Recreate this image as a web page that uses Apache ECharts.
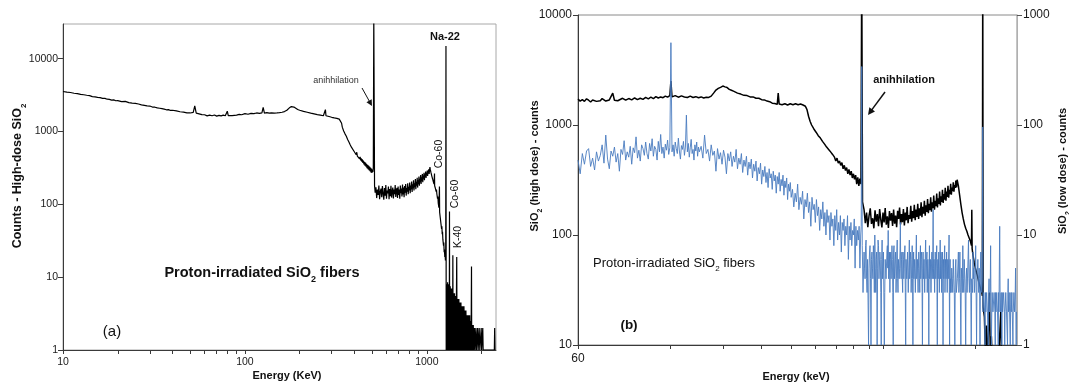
<!DOCTYPE html>
<html><head><meta charset="utf-8">
<script src="https://cdn.jsdelivr.net/npm/echarts@6/dist/echarts.min.js"></script>
<style>html,body{margin:0;padding:0;background:#fff}#c{width:1069px;height:386px}</style>
</head><body><div id="c"></div>
<script>
// ---------- Panel (a): high-dose spectrum, [energy keV, counts] ----------
const aSpectrum = [
[10,3550],[10.5,3470],[11,3440],[11.5,3360],[12,3320],[12.5,3240],[13,3200],[13.5,3150],[14,3110],[14.5,3020],
[15,2990],[15.5,2950],[16,2920],[16.5,2860],[17,2850],[17.5,2780],[18,2770],[18.5,2700],[19,2720],[19.5,2650],
[20,2660],[21,2580],[22,2600],[23,2500],[24,2460],[25,2440],[26,2390],[27,2330],[28,2290],[29,2250],[30,2240],
[31,2170],[32,2160],[33,2110],[34,2090],[35,2060],[36,2030],[37,1990],[38,2000],[39,1950],[40,1960],[41,1910],
[42,1920],[43,1880],[44,1870],[45,1830],[46,1850],[47,1800],[48,1810],[49,1770],[50,1800],[51,1760],[52,1830],
[53,2250],[54,1790],[55,1720],[56,1750],[57,1690],[58,1710],[59,1660],[60,1700],[62,1640],[64,1680],[66,1650],
[68,1690],[70,1630],[72,1670],[74,1640],[76,1680],[78,1650],[80,1900],[81,1660],[83,1700],[85,1650],[87,1690],
[90,1680],[93,1720],[96,1700],[100,1760],[104,1730],[108,1780],[112,1760],[116,1800],[120,1780],[124,1810],
[126,2150],[128,1790],[132,1820],[136,1790],[140,1810],[145,1790],[150,1800],[155,1820],[160,1840],[165,1880],
[170,1960],[175,2100],[180,2200],[183,2250],[186,2170],[190,2090],[195,2010],[200,1960],[205,1930],[210,1890],
[215,1870],[220,1840],[225,1820],[230,1790],[235,1780],[240,1750],[245,1740],[250,1710],[255,1700],[260,1680],
[265,1670],[270,1650],[275,1660],[277,2000],[279,1650],[285,1620],[290,1610],[295,1580],[300,1570],[305,1550],
[310,1540],[315,1530],[320,1520],[325,1500],[330,1480],[335,1400],[340,1300],[343,1150],[346,1180],[349,1020],
[352,1060],[355,930],[358,960],[361,860],[364,890],[367,780],[370,800],[373,720],[376,750],[379,660],[382,690],
[385,610],[388,640],[391,580],[394,600],[397,540],[400,570],[403,510],[406,540],[409,480],[412,520],[415,460],
[418,490],[421,440],[424,470],[427,420],[430,450],[433,400],[436,430],[439,385],[442,415],[445,370],[448,400],
[451,355],[454,385],[457,340],[460,375],[463,330],[466,360],[469,315],[472,350],[475,305],[478,340],[481,295],
[484,330],[487,285],[490,320],[493,275],[496,310],[499,270],[502,300],[505,280],[508,320],[511,40000],
[516,180],[520,145],[525,172],[530,122],[535,160],[540,135],[545,182],[550,118],[555,150],[560,165],[565,125],
[570,178],[575,140],[580,116],[585,168],[590,132],[595,185],[600,120],[605,155],[610,142],[615,176],[620,118],
[625,162],[630,130],[635,180],[640,124],[645,150],[650,170],[655,121],[660,160],[665,138],[670,184],[675,126],
[680,155],[685,168],[690,122],[695,176],[700,135],[705,160],[710,120],[715,182],[720,142],[725,165],[730,128],
[735,188],[740,137],[745,170],[750,125],[755,178],[760,145],[765,190],[770,132],[775,168],[780,150],[785,195],
[790,138],[795,175],[800,155],[805,200],[810,142],[815,182],[820,160],[825,206],[830,148],[835,188],[840,165],
[845,214],[850,155],[855,195],[860,172],[865,222],[870,162],[875,205],[880,180],[885,232],[890,170],[895,215],
[900,190],[905,242],[910,180],[915,225],[920,200],[925,252],[930,190],[935,236],[940,212],[945,262],[950,202],
[955,248],[960,225],[965,272],[970,215],[975,258],[980,238],[985,282],[990,230],[995,268],[1000,250],[1005,292],
[1010,245],[1015,280],[1020,265],[1025,302],[1030,262],[1035,295],
[1040,325],[1045,300],[1050,310],[1055,270],[1060,280],[1065,245],[1070,255],[1075,225],[1080,235],[1085,205],
[1090,215],[1095,190],[1100,200],[1102,265],[1104,180],[1110,185],[1115,165],[1120,172],[1125,150],[1130,160],
[1135,140],[1140,145],[1145,120],[1150,128],[1155,105],[1160,110],[1165,90],[1170,95],[1173,176],[1176,78],
[1180,80],[1185,66],[1190,70],[1195,55],[1200,58],[1205,46],[1210,50],[1215,39],[1220,42],[1225,33],[1230,35],
[1235,27],[1240,30],[1245,22],[1250,24],[1255,19],[1260,21],[1265,17],[1270,19],[1274,15000],[1278,1],
[1285,1],[1290,8],[1295,1],[1300,8.5],[1305,1],[1310,7.5],[1315,1],[1320,8],[1325,1],[1330,6],[1332,80],[1334,6],
[1340,1],[1345,7.5],[1350,1],[1355,7],[1360,1],[1370,7],[1375,1],[1380,6.5],[1385,1],[1390,20],[1395,1],[1400,6],
[1410,1],[1420,6],[1430,1],[1440,5.5],[1450,1],[1455,6],[1460,19],[1463,5],[1470,1],[1480,5],[1490,1],[1500,5],
[1510,1],[1520,4.5],[1530,1],[1540,4.5],[1550,1],[1560,4],[1570,1],[1580,4],[1590,1],[1600,4],[1610,1],[1620,3.5],
[1630,1],[1640,3.5],[1650,1],[1660,3],[1670,1],[1680,3],[1690,1],[1700,3],[1710,1],[1720,3],[1730,1],[1740,2.5],
[1750,1],[1760,14],[1765,1],[1775,2.2],[1785,1],[1800,2.2],[1810,1],[1825,2],[1840,1],[1860,2],[1875,1],[1900,2],
[1915,1],[1940,2],[1955,1],[1990,2],[2000,1],[2030,2],[2040,1],[2350,1],[2360,2],[2370,1]
];
const aXTicks = [10,20,30,40,50,60,70,80,90,100,200,300,400,500,600,700,800,900,1000,2000];
const aXLabels = [10,100,1000];
const aYLabels = [1,10,100,1000,10000];

// ---------- Panel (b): high dose (left axis) ----------
const bHighDose = [
[60,1720],[61,1650],[62,1700],[63,1640],[64,1730],[65,1680],[66,1620],[67,1690],[68,1710],[69,1640],[70,1700],
[71,1660],[72,1740],[73,1680],[74,1650],[75,1720],[76,1690],[77,1700],[78,1950],[79,1680],[80,1730],[81,1660],
[82,1700],[84,1750],[86,1680],[88,1740],[90,1690],[92,1760],[94,1700],[96,1750],[98,1710],[100,1780],[102,1730],
[104,1790],[106,1740],[108,1810],[110,1760],[112,1800],[114,1770],[116,1830],[118,1790],[120,1850],[121,2510],
[122,1800],[125,1850],[128,1790],[131,1840],[134,1800],[137,1780],[140,1830],[143,1780],[146,1810],[149,1770],
[152,1800],[155,1760],[158,1790],[161,1780],[164,1830],[167,1950],[170,2080],[173,2150],[176,2200],[179,2260],
[182,2220],[185,2190],[188,2110],[191,2070],[194,2030],[197,1990],[200,1950],[205,1910],[210,1860],[215,1850],
[220,1800],[225,1800],[230,1750],[235,1750],[240,1700],[245,1690],[250,1650],[255,1630],[260,1580],[265,1570],
[270,1540],[272,1950],[274,1550],[280,1530],[286,1560],[292,1520],[298,1560],[304,1530],[310,1560],[316,1530],
[322,1550],[328,1520],[334,1480],[338,1380],[342,1200],[346,1080],[350,1000],[356,920],[362,860],[368,800],
[374,760],[380,710],[386,670],[392,630],[398,600],[404,570],[410,540],[416,510],[420,470],[424,500],[428,450],
[432,470],[436,430],[440,455],[444,400],[448,430],[452,385],[456,410],[460,360],[464,395],[468,350],[472,380],
[476,330],[480,360],[484,320],[488,350],[492,290],[496,335],[500,280],[504,325],[508,290],[511,30000],[514,200],
[520,170],[525,128],[530,160],[535,118],[540,150],[545,175],[550,126],[555,142],[560,115],[565,168],[570,132],
[575,155],[580,120],[585,172],[590,138],[595,117],[600,160],[605,130],[610,176],[615,124],[620,148],[625,116],
[630,165],[635,135],[640,158],[645,121],[650,170],[655,127],[660,150],[665,118],[670,166],[675,140],[680,178],
[685,125],[690,155],[695,131],[700,172],[705,122],[710,160],[715,136],[720,180],[725,128],[730,152],[735,140],
[740,184],[745,132],[750,165],[755,142],[760,188],[765,136],[770,170],[775,146],[780,192],[785,140],[790,175],
[795,150],[800,198],[805,145],[810,180],[815,156],[820,205],[825,150],[830,186],[835,162],[840,212],[845,158],
[850,192],[855,168],[860,220],[865,163],[870,198],[875,175],[880,228],[885,170],[890,205],[895,183],[900,238],
[905,178],[910,215],[915,192],[920,248],[925,186],[930,225],[935,200],[940,258],[945,196],[950,236],[955,210],
[960,268],[965,205],[970,248],[975,222],[980,280],[985,218],[990,258],[995,235],[1000,292],[1005,232],[1010,270],
[1015,250],[1020,302],[1025,248],[1030,285],[1035,268],[1040,312],[1045,270],[1050,318],[1054,325],
[1060,280],[1070,230],[1080,190],[1090,160],[1100,140],[1110,125],[1120,115],[1130,108],[1140,100],[1150,94],
[1160,88],[1170,80],[1173,170],[1176,75],[1185,64],[1195,56],[1205,50],[1215,46],[1225,42],[1235,38],[1245,35],
[1255,32],[1265,30],[1270,28],[1274,30000],[1278,22],[1290,18],[1300,8],[1310,15],[1320,6],[1340,30],[1350,7],
[1360,12],[1375,5],[1390,9],[1400,4],[1430,6],[1460,20],[1470,4],[1500,5],[1540,3],[1600,4],[1650,3]
];
// ---------- Panel (b): low dose (right axis) ----------
const bLowDose = [
[60,48],[61,36],[62,55],[63,44],[64,58],[65,61],[66,42],[67,50],[68,39],[69,57],[70,47],[71,53],[72,66],[73,45],
[74,81],[75,49],[76,40],[77,58],[78,52],[79,63],[80,46],[81,55],[82,38],[83,60],[84,54],[85,72],[86,48],[87,57],
[88,51],[89,64],[90,44],[91,62],[92,56],[93,78],[94,50],[95,59],[96,47],[97,66],[98,61],[99,53],[100,70],[101,55],
[102,49],[103,68],[104,58],[105,75],[106,52],[107,64],[108,60],[109,48],[110,71],[111,57],[112,82],[113,55],
[114,63],[115,50],[116,67],[117,59],[118,73],[119,54],[120,62],[121,560],[122,57],[123,66],[124,52],[125,70],
[126,61],[127,55],[128,76],[129,58],[130,49],[131,65],[132,60],[133,71],[134,53],[135,63],[136,123],[137,57],
[138,68],[139,51],[140,62],[141,74],[142,55],[143,60],[144,48],[145,66],[146,58],[147,70],[148,52],[149,63],
[150,57],[152,64],[154,50],[156,81],[158,55],[160,60],[162,47],[164,66],[166,53],[168,58],[170,38],[172,61],
[174,49],[176,56],[178,44],[180,59],[182,51],[184,36],[186,55],[188,47],[190,57],[192,42],[194,52],[196,46],
[198,60],[200,40],[202,50],[204,44],[206,55],[208,37],[210,48],[212,42],[214,52],[216,35],[218,46],[220,40],
[222,49],[224,33],[226,44],[228,38],[230,47],[232,31],[234,41],[236,36],[238,45],[240,29],[242,39],[244,34],
[246,42],[248,30],[250,37],[252,27],[254,40],[256,33],[258,36],[260,26],[262,38],[264,31],[266,35],[268,24],
[270,34],[272,29],[274,37],[276,25],[278,32],[280,28],[282,35],[284,23],[286,31],[288,27],[290,33],[292,21],
[294,29],[296,25],[298,30],[300,22],[303,26],[306,18],[309,24],[312,20],[315,29],[318,17],[321,22],[324,19],
[327,25],[330,14],[333,21],[336,18],[339,24],[342,16],[345,20],[348,12],[351,22],[354,17],[357,19],[360,13],
[363,21],[366,15],[369,18],[372,11],[375,17],[378,14],[381,20],[384,12],[387,16],[390,10],[393,17],[396,13],
[399,15],[402,9],[405,16],[408,12],[411,14],[414,8],[417,15],[420,11],[423,17],[426,9],[429,13],[432,10],
[435,15],[438,7],[441,13],[444,11],[447,14],[450,8],[453,12],[456,10],[459,15],[462,6],[465,12],[468,9],
[471,13],[474,8],[477,11],[480,10],[483,14],[486,5],[489,12],[492,8],[495,11],[498,9],[501,12],[504,5],
[507,10],[509,12],[511,340],[513,8],[516,3],
[520,7],[522,5],[524,4],[526,8],[528,9],[530,4],[532,3],[534,6],[536,6],[538,1],[540,5],[542,7],[544,8],[546,4],
[548,1],[550,6],[552,7],[554,5],[556,4],[558,8],[560,6],[562,3],[564,10],[566,5],[568,3],[570,6],[572,7],[574,1],
[576,5],[578,9],[580,8],[582,4],[584,4],[586,7],[588,6],[590,3],[592,1],[594,6],[596,9],[598,4],[600,5],[602,7],
[604,7],[606,1],[608,3],[610,6],[612,6],[614,4],[616,4],[618,7],[620,8],[622,5],[624,11],[626,4],[628,5],[630,7],
[632,3],[634,6],[636,7],[638,4],[640,4],[642,8],[644,6],[646,3],[648,1],[650,7],[652,8],[654,4],[656,5],[658,6],
[660,7],[662,3],[664,4],[666,7],[668,9],[670,4],[672,3],[674,6],[676,6],[678,4],[680,5],[682,7],[684,13],[686,5],
[688,4],[690,6],[692,7],[694,4],[696,3],[698,7],[700,6],[702,4],[704,5],[706,7],[708,8],[710,3],[712,1],[714,6],
[716,6],[718,4],[720,4],[722,7],[724,7],[726,3],[728,3],[730,6],[732,9],[734,4],[736,5],[738,7],[740,6],[742,3],
[744,4],[746,6],[748,8],[750,4],[752,1],[754,5],[756,7],[758,4],[760,5],[762,6],[764,6],[766,3],[768,3],[770,7],
[772,10],[774,4],[776,4],[778,6],[780,6],[782,3],[784,5],[786,7],[788,7],[790,4],[792,3],[794,6],[796,8],[798,4],
[800,4],[802,7],[804,6],[806,3],[808,1],[810,5],[812,7],[814,4],[816,5],[818,6],[820,6],[822,3],[824,3],[826,7],
[828,9],[830,4],[832,4],[834,6],[836,7],[838,3],[840,5],[842,6],[844,6],[846,4],[848,1],[850,5],[852,8],[854,4],
[856,4],[858,6],[860,6],[862,3],[864,3],[866,6],[868,7],[870,4],[872,5],[874,7],[876,17],[878,5],[880,4],[882,6],
[884,6],[886,3],[888,3],[890,7],[892,7],[894,4],[896,5],[898,6],[900,8],[902,3],[904,1],[906,5],[908,6],[910,4],
[912,4],[914,7],[916,7],[918,3],[920,3],[922,6],[924,9],[926,4],[928,5],[930,7],[932,6],[934,3],[936,4],[938,6],
[940,7],[942,4],[944,1],[946,5],[948,6],[950,4],[952,5],[954,7],[956,8],[958,3],[960,3],[962,6],[964,6],[966,4],
[968,4],[970,7],[972,7],[974,3],[976,3],[978,6],[980,5],[982,4],[984,4],[986,7],[988,10],[990,3],[992,1],[994,5],
[996,6],[998,3],[1000,4],
[1004,3],[1008,5],[1012,4],[1016,3],[1020,6],[1024,4],[1028,3],[1032,1],[1036,5],[1040,6],[1044,3],[1048,3],
[1052,4],[1056,4],[1060,7],[1064,3],[1068,4],[1072,7],[1076,3],[1080,1],[1084,5],[1088,4],[1092,3],[1096,8],
[1100,4],[1104,3],[1108,6],[1112,6],[1116,3],[1120,1],[1124,4],[1128,5],[1132,3],[1136,3],[1140,6],[1144,9],
[1148,4],[1152,3],[1156,5],[1160,6],[1164,3],[1168,1],[1172,4],[1176,4],[1180,3],[1184,7],[1188,4],[1192,5],
[1196,3],[1200,3],[1204,5],[1208,8],[1212,3],[1216,1],[1220,4],[1224,4],[1228,6],[1232,6],[1236,3],[1240,5],
[1244,4],[1248,1],[1252,5],[1256,7],[1260,3],[1264,3],[1268,4],[1272,4],[1274,96],[1276,2],[1280,2],[1284,3],
[1288,3],[1292,2],[1296,1],[1300,3],[1304,2],[1308,2],[1312,3],[1316,3],[1320,2],[1324,2],[1328,1],[1332,3],
[1336,4],[1340,2],[1344,2],[1348,3],[1352,8],[1356,2],[1360,1],[1364,2],[1368,3],[1372,3],[1376,2],[1380,2],
[1384,2],[1388,3],[1392,3],[1396,2],[1400,1],[1404,3],[1408,2],[1412,2],[1416,3],[1420,3],[1424,2],[1428,2],
[1432,1],[1436,3],[1440,2],[1444,2],[1448,12],[1452,3],[1456,2],[1460,2],[1464,3],[1468,2],[1472,1],[1476,3],
[1480,2],[1484,2],[1488,2],[1492,3],[1496,3],[1500,2],[1504,1],[1508,2],[1512,2],[1516,3],[1520,3],[1524,2],
[1528,2],[1532,2],[1536,1],[1540,3],[1544,4],[1548,2],[1552,2],[1556,3],[1560,2],[1564,2],[1568,1],[1572,2],
[1576,3],[1580,2],[1584,2],[1588,3],[1592,2],[1596,2],[1600,1],[1604,2],[1608,2],[1612,3],[1616,3],[1620,2],
[1624,2],[1628,3],[1632,5],[1636,2],[1640,1],[1644,2],[1648,2]
];
const bXTicks = [60,120,180,240,300,360,420,480,540,600,1200];
const bXLabels = [60];
const bLeftLabels = [10,100,1000,10000];
const bRightLabels = [1,10,100,1000];

const FONT = "'Liberation Sans', Arial, sans-serif";
const fmt = v => String(Math.round(v));
const chart = echarts.init(document.getElementById('c'), null, {renderer: 'canvas'});

function txt(x, y, text, size, weight, opts) {
  opts = opts || {};
  return {
    type: 'text', x: x, y: y, rotation: opts.rot || 0, z: 100,
    style: {
      text: text, fill: opts.color || '#111',
      font: (weight || 'normal') + ' ' + size + 'px ' + FONT,
      fontSize: size, fontWeight: weight || 'normal', fontFamily: FONT,
      align: 'center', verticalAlign: 'middle', textAlign: 'center', textVerticalAlign: 'middle',
      rich: opts.rich
    }
  };
}
function subRich(size, weight) {
  return {
    t: {fontSize: size, fontWeight: weight, fontFamily: FONT, lineHeight: size + 7, verticalAlign: 'middle', fill: '#111', color: '#111'},
    s: {fontSize: Math.round(size * 0.65), fontWeight: weight, fontFamily: FONT, lineHeight: Math.round(size * 0.65), verticalAlign: 'bottom', fill: '#111', color: '#111'}
  };
}
function arrow(x1, y1, x2, y2, w, head) {
  const dx = x2 - x1, dy = y2 - y1, L = Math.sqrt(dx * dx + dy * dy);
  const ux = dx / L, uy = dy / L, bx = x2 - ux * head, by = y2 - uy * head;
  const px = -uy * head * 0.5, py = ux * head * 0.5;
  return [
    {type: 'line', z: 100, shape: {x1: x1, y1: y1, x2: bx + ux, y2: by + uy}, style: {stroke: '#111', lineWidth: w}},
    {type: 'polygon', z: 100, shape: {points: [[x2, y2], [bx + px, by + py], [bx - px, by - py]]}, style: {fill: '#111'}}
  ];
}

const axisDark = {show: true, onZero: false, lineStyle: {color: '#3a3a3a', width: 1}};

const option = {
  animation: false,
  backgroundColor: '#fff',
  textStyle: {fontFamily: FONT},
  grid: [
    {left: 63, top: 24, width: 433, height: 326, show: true, borderColor: '#a8a8a8', borderWidth: 1},
    {left: 578, top: 15, width: 439, height: 330, show: true, borderColor: '#8a8a8a', borderWidth: 1}
  ],
  xAxis: [
    {type: 'log', logBase: 10, gridIndex: 0, min: 10, max: 2400, axisLine: axisDark,
     axisTick: {show: true, inside: false, length: 4, customValues: aXTicks, lineStyle: {color: '#3a3a3a'}},
     axisLabel: {customValues: aXLabels, formatter: fmt, fontSize: 10.5, color: '#1a1a1a', margin: 7, fontFamily: FONT},
     splitLine: {show: false}, minorTick: {show: false}},
    {type: 'log', logBase: 10, gridIndex: 1, min: 60, max: 1650, axisLine: axisDark,
     axisTick: {show: true, inside: false, length: 4, customValues: bXTicks, lineStyle: {color: '#3a3a3a'}},
     axisLabel: {customValues: bXLabels, formatter: fmt, fontSize: 12, color: '#1a1a1a', margin: 8, fontFamily: FONT},
     splitLine: {show: false}}
  ],
  yAxis: [
    {type: 'log', logBase: 10, gridIndex: 0, min: 1, max: 30000, axisLine: axisDark,
     axisTick: {show: true, inside: false, length: 5, customValues: aYLabels, lineStyle: {color: '#3a3a3a'}},
     axisLabel: {customValues: aYLabels, formatter: fmt, fontSize: 10.5, color: '#1a1a1a', margin: 5, fontFamily: FONT},
     splitLine: {show: false}},
    {type: 'log', logBase: 10, gridIndex: 1, min: 10, max: 10000, position: 'left', axisLine: axisDark,
     axisTick: {show: true, inside: false, length: 5, customValues: bLeftLabels, lineStyle: {color: '#3a3a3a'}},
     axisLabel: {customValues: bLeftLabels, formatter: fmt, fontSize: 12, color: '#1a1a1a', margin: 6, fontFamily: FONT},
     splitLine: {show: false}},
    {type: 'log', logBase: 10, gridIndex: 1, min: 1, max: 1000, position: 'right',
     axisLine: {show: true, onZero: false, lineStyle: {color: '#b0b0b0', width: 1}},
     axisTick: {show: true, inside: false, length: 5, customValues: bRightLabels, lineStyle: {color: '#555'}},
     axisLabel: {customValues: bRightLabels, formatter: fmt, fontSize: 12, color: '#1a1a1a', margin: 6, fontFamily: FONT},
     splitLine: {show: false}}
  ],
  series: [
    {type: 'line', xAxisIndex: 0, yAxisIndex: 0, data: aSpectrum, symbol: 'none', showSymbol: false, clip: true,
     lineStyle: {color: '#000', width: 1.2}, silent: true},
    {type: 'line', xAxisIndex: 1, yAxisIndex: 1, data: bHighDose, symbol: 'none', showSymbol: false, clip: true,
     lineStyle: {color: '#000', width: 1.5}, silent: true, z: 2},
    {type: 'line', xAxisIndex: 1, yAxisIndex: 2, data: bLowDose, symbol: 'none', showSymbol: false, clip: true,
     lineStyle: {color: '#4a7cc0', width: 0.9}, silent: true, z: 3}
  ],
  graphic: [].concat(
    [
      txt(18, 176, '{t|Counts - High-dose SiO}{s|2}', 12.5, 'bold', {rot: Math.PI / 2, rich: subRich(12.5, 'bold')}),
      txt(287, 376, 'Energy (KeV)', 11, 'bold'),
      txt(262, 273, '{t|Proton-irradiated SiO}{s|2}{t| fibers}', 14.5, 'bold', {rich: subRich(14.5, 'bold')}),
      txt(112, 332, '(a)', 15, 'normal'),
      txt(336, 81, 'anihhilation', 9, 'normal', {color: '#333'}),
      txt(445, 37, 'Na-22', 11, 'bold'),
      txt(439, 154, 'Co-60', 10.5, 'normal', {rot: Math.PI / 2}),
      txt(455, 194, 'Co-60', 10.5, 'normal', {rot: Math.PI / 2}),
      txt(458, 237, 'K-40', 10.5, 'normal', {rot: Math.PI / 2}),
      txt(535, 166, '{t|SiO}{s|2}{t| (high dose) - counts}', 11, 'bold', {rot: Math.PI / 2, rich: subRich(11, 'bold')}),
      txt(1063, 171, '{t|SiO}{s|2}{t| (low dose) - counts}', 11, 'bold', {rot: Math.PI / 2, rich: subRich(11, 'bold')}),
      txt(796, 377, 'Energy (keV)', 11, 'bold'),
      txt(674, 263, '{t|Proton-irradiated SiO}{s|2}{t| fibers}', 13, 'normal', {rich: subRich(13, 'normal')}),
      txt(629, 325, '(b)', 13.5, 'bold'),
      txt(904, 80, 'anihhilation', 11, 'bold')
    ],
    arrow(362, 88, 372, 106, 1, 6),
    arrow(885, 92, 868, 115, 1.5, 7)
  )
};
chart.setOption(option);
</script>
</body></html>
